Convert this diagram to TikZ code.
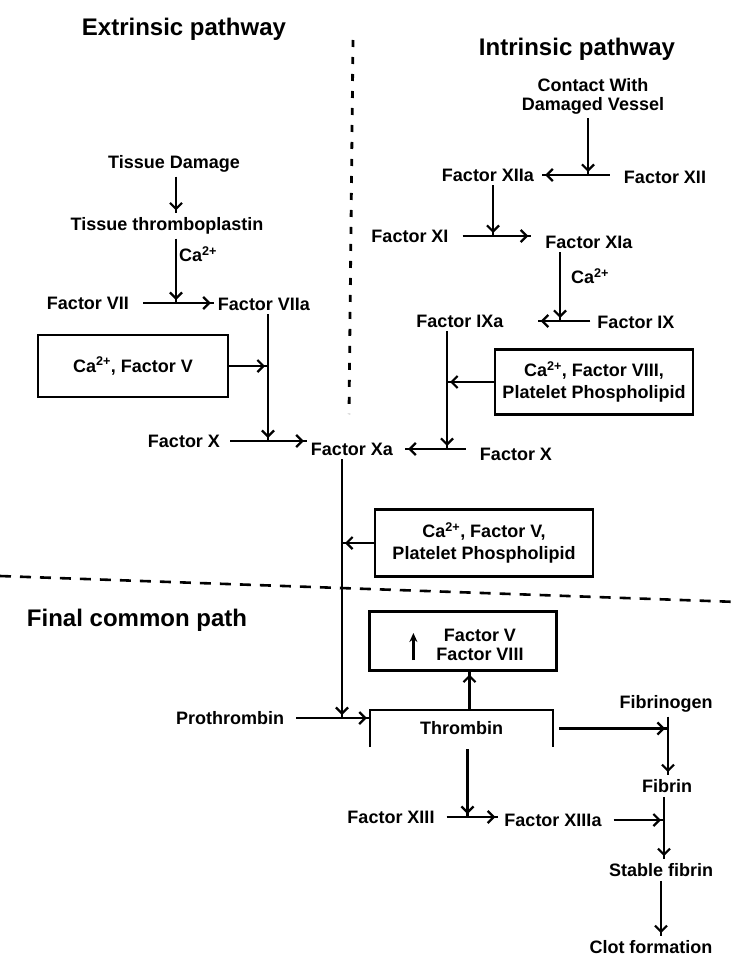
\documentclass[tikz,border=0pt]{standalone}
\usepackage{fontspec}
\setmainfont{Liberation Sans}
\usetikzlibrary{arrows.meta,decorations.markings,calc}
\begin{document}
\begin{tikzpicture}[x=1pt,y=-1pt,
  lbl/.style={font=\bfseries\fontsize{18}{19}\selectfont, inner sep=4pt},
  ttl/.style={font=\bfseries\fontsize{24}{26}\selectfont, inner sep=0pt},
  bx/.style={draw, line width=2.2pt, align=center, font=\bfseries\fontsize{18}{22}\selectfont},
  ln/.style={line width=2.2pt},
  yarr/.style={ln, postaction={decorate}, decoration={markings, mark=at position -3pt with {\pgfsetlinewidth{2.2pt}\arrow{Straight Barb[length=6pt,width=12pt]}}}},
  uparr/.style={ln, -{Stealth[length=9pt,width=8pt]}},
  vdash/.style={line width=2.8pt, dash pattern=on 7pt off 10pt},
  hdash/.style={line width=2.6pt, dash pattern=on 11pt off 9pt},
]
\useasboundingbox (0,0) rectangle (738,966);

% separators
\draw[vdash] (353,40) -- (349,414);
\draw[hdash] (0,576) -- (738,602);

% titles
\node[ttl] (ext) at (184,29) {Extrinsic pathway};
\node[ttl] (intr) at (577,49) {Intrinsic pathway};
\node[ttl] (fin) at (137,620) {Final common path};

% extrinsic nodes
\node[lbl] (td) at (174,164) {Tissue Damage};
\node[lbl] (tt) at (167,226) {Tissue thromboplastin};
\node[lbl] (ca1) at (198,254) {Ca\textsuperscript{2+}};
\node[lbl] (f7) at (88,303) {Factor VII};
\node[lbl] (f7a) at (264,304) {Factor VIIa};
\node[bx, minimum width=190pt, minimum height=62pt] (b5) at (133,366) {Ca\textsuperscript{2+}, Factor V};
\node[lbl] (f10l) at (184,441) {Factor X};
\node[lbl] (f10a) at (352,449) {Factor Xa};

% intrinsic nodes
\node[lbl, align=center] (cont) at (593,96) {Contact With\\Damaged Vessel};
\node[lbl] (f12a) at (488,175) {Factor XIIa};
\node[lbl] (f12) at (665,177) {Factor XII};
\node[lbl] (f11) at (410,236) {Factor XI};
\node[lbl] (f11a) at (589,242) {Factor XIa};
\node[lbl] (ca2) at (590,276) {Ca\textsuperscript{2+}};
\node[lbl] (f9a) at (460,321) {Factor IXa};
\node[lbl] (f9) at (636,322) {Factor IX};
\node[bx, minimum width=198pt, minimum height=65pt] (b8) at (594,382) {Ca\textsuperscript{2+}, Factor VIII,\\Platelet Phospholipid};
\node[lbl] (f10r) at (516,454) {Factor X};

% common path nodes
\node[bx, minimum width=218pt, minimum height=67pt] (bp) at (484,543) {Ca\textsuperscript{2+}, Factor V,\\Platelet Phospholipid};
\node[draw, line width=2.2pt, minimum width=187pt, minimum height=59pt] (b58) at (463,641) {};
\node[lbl, align=center] (t58) at (480,645) {Factor V\\Factor VIII};
\node[lbl] (pro) at (230,718) {Prothrombin};
\node[lbl, minimum width=183pt, minimum height=37pt, inner sep=0pt] (thr) at (461.5,728.5) {Thrombin};
\node[lbl] (fbg) at (666,704) {Fibrinogen};
\node[lbl] (fb) at (667,786) {Fibrin};
\node[lbl] (f13) at (391,817) {Factor XIII};
\node[lbl] (f13a) at (553,820) {Factor XIIIa};
\node[lbl] (sf) at (661,870) {Stable fibrin};
\node[lbl] (clot) at (651,947) {Clot formation};

% thrombin bracket
\draw[ln] (thr.south west) -- (thr.north west) -- (thr.north east) -- (thr.south east);

% helper coordinates
\coordinate (c0) at ($(td.south)+(2,0)$);
\coordinate (c1) at ($(tt.south)+(9,0)$);
\coordinate (c2) at ($(f7a.south)+(4,0)$);
\coordinate (c3) at ($(cont.south)+(-5,0)$);
\coordinate (c4) at ($(f12a.south)+(5,0)$);
\coordinate (c5) at ($(f11a.south)+(-29,0)$);
\coordinate (c6) at ($(f9a.south)+(-13,0)$);
\coordinate (c7) at ($(f10a.south)+(-10,0)$);
\coordinate (c8) at ($(thr.north)+(8,0)$);
\coordinate (c9) at ($(thr.south)+(6,2)$);
\coordinate (c10) at ($(fbg.south)+(2,0)$);
\coordinate (c11) at ($(fb.south)+(-3,0)$);
\coordinate (s7) at ($(f7.east)+(10,0)$);
\coordinate (s10) at ($(f10l.east)+(6,0)$);
\coordinate (s12) at ($(f12.west)+(-10,0)$);
\coordinate (e12) at ($(f12a.east)+(4,0)$);
\coordinate (s11) at ($(f11.east)+(10,0)$);
\coordinate (e11) at ($(f11a.west)+(-10,0)$);
\coordinate (s9) at ($(f9.west)+(-3,0)$);
\coordinate (e9) at ($(f9a.east)+(30,0)$);
\coordinate (s10r) at ($(f10r.west)+(-10,0)$);
\coordinate (e10r) at ($(f10a.east)+(8,0)$);
\coordinate (sp) at ($(pro.east)+(8,0)$);
\coordinate (s13) at ($(f13.east)+(8,0)$);
\coordinate (e13) at ($(f13a.west)+(-2,0)$);
\coordinate (st) at ($(thr.east)+(6,0)$);
\coordinate (s13a) at ($(f13a.east)+(8,0)$);

% extrinsic connectors
\draw[yarr] (c0) -- (c0 |- tt.north);
\draw[yarr] (c1) -- (c1 |- f7.east);
\draw[yarr] (s7) -- (f7a.west |- s7);
\draw[yarr] (c2) -- (c2 |- f10l.east);
\draw[yarr] (b5.east) -- (b5.east -| c2);
\draw[yarr] (s10) -- (f10a.west |- s10);

% intrinsic connectors
\draw[yarr] (c3) -- (c3 |- f12a.east);
\draw[yarr] (s12 |- f12a.east) -- (e12);
\draw[yarr] (c4) -- (c4 |- f11.east);
\draw[yarr] (s11) -- (e11 |- s11);
\draw[yarr] (c5) -- (c5 |- f9a.east);
\draw[yarr] (s9 |- f9a.east) -- (e9);
\draw[yarr] (c6) -- (c6 |- f10a.east);
\draw[yarr] (b8.west) -- (b8.west -| c6);
\draw[yarr] (s10r |- f10a.east) -- (e10r);

% common path connectors
\draw[yarr] (c7) -- (c7 |- pro.east);
\draw[yarr] (bp.west) -- (bp.west -| c7);
\draw[yarr] (sp) -- (thr.west |- sp);
\draw[uparr] ($(b58.west)+(45,19)$) -- ($(b58.west)+(45,-8)$);
\draw[yarr] (c8) -- (c8 |- b58.south);
\draw[yarr] (c9) -- (c9 |- f13.east);
\draw[yarr] (s13) -- (e13 |- s13);
\draw[yarr] (c10) -- (c10 |- fb.north);
\draw[yarr] (st) -- (c10 |- st);
\draw[yarr] (c11) -- (c11 |- sf.north);
\draw[yarr] (s13a) -- (c11 |- s13a);
\draw[yarr] (sf.south) -- (sf.south |- clot.north);
\end{tikzpicture}
\end{document}
